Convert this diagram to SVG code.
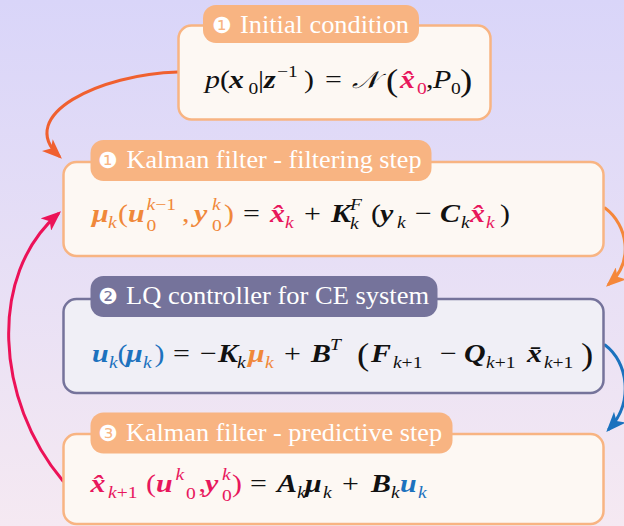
<svg xmlns="http://www.w3.org/2000/svg" width="624" height="526" viewBox="0 0 624 526">
<defs>
<linearGradient id="bg" x1="0" y1="0" x2="0" y2="1">
<stop offset="0" stop-color="#d9d5f9"/>
<stop offset="1" stop-color="#f5e9f2"/>
</linearGradient>
<marker id="ah1" markerUnits="userSpaceOnUse" markerWidth="20" markerHeight="16" viewBox="0 0 20 16" refX="16" refY="8" orient="auto"><path d="M0,0 L20,8 L0,16 L5,8 z" fill="#f0602f"/></marker>
<marker id="ah2" markerUnits="userSpaceOnUse" markerWidth="20" markerHeight="16" viewBox="0 0 20 16" refX="16" refY="8" orient="auto"><path d="M0,0 L20,8 L0,16 L5,8 z" fill="#f5873a"/></marker>
<marker id="ah3" markerUnits="userSpaceOnUse" markerWidth="20" markerHeight="16" viewBox="0 0 20 16" refX="16" refY="8" orient="auto"><path d="M0,0 L20,8 L0,16 L5,8 z" fill="#1b72be"/></marker>
<marker id="ah4" markerUnits="userSpaceOnUse" markerWidth="20" markerHeight="16" viewBox="0 0 20 16" refX="16" refY="8" orient="auto"><path d="M0,0 L20,8 L0,16 L5,8 z" fill="#ec1258"/></marker>
</defs>
<style>
.box-o{fill:#fdf8f3;stroke:#f8b482;stroke-width:2.5}
.box-p{fill:#f0eff6;stroke:#75739b;stroke-width:2.5}
.pill-o{fill:#f8b482}
.pill-p{fill:#75739b}
.pt{font-family:'Liberation Serif','Times New Roman',serif;font-size:25px;fill:#ffffff}
.num{font-family:'DejaVu Sans','Noto Sans',sans-serif;font-size:22px;fill:#ffffff}
.m{font-family:'Liberation Serif','Times New Roman',serif;font-size:26px;fill:#111111}
.i{font-style:italic}
.b{font-style:italic;font-weight:bold}
.s{font-size:17px}
.big{font-size:32px}
.o{fill:#f0883a}
.p{fill:#e8175d}
.bl{fill:#1d72be}
.cal{font-family:'DejaVu Serif','DejaVu Sans','Noto Sans',serif;font-style:italic;font-weight:normal;font-size:24px}
.conn{fill:none;stroke-width:3;stroke-linecap:round}
</style>
<rect x="0" y="0" width="624" height="526" fill="url(#bg)"/>

<g id="connectors">
<path class="conn" stroke="#f0602f" d="M178,72 C100,74 15,115 59,156" marker-end="url(#ah1)"/>
<path class="conn" stroke="#f5873a" d="M605,208 C628,225 634,262 609,284" marker-end="url(#ah2)"/>
<path class="conn" stroke="#1b72be" d="M605,345 C628,362 634,402 609,429" marker-end="url(#ah3)"/>
<path class="conn" stroke="#ec1258" d="M63,481 C-5,400 -12,275 58,214" marker-end="url(#ah4)"/>
</g>

<g id="initial-condition">
<rect class="box-o" x="178.5" y="25.5" width="312" height="94" rx="13"/>
<rect class="pill-o" x="203" y="5" width="216" height="38" rx="13"/>
<text class="num" x="212" y="33">❶</text>
<text class="pt" x="240" y="33" textLength="169" lengthAdjust="spacingAndGlyphs">Initial condition</text>
<text class="m" transform="scale(1.15,1)"><tspan class="i" x="178.3" y="88">p</tspan><tspan x="191.3" y="88">(</tspan><tspan class="b" x="199.1" y="88">x</tspan><tspan class="s" x="216" y="94">0</tspan><tspan x="224.3" y="88">|</tspan><tspan class="b" x="229.6" y="88">z</tspan><tspan class="s" x="240.9" y="77">−1</tspan><tspan x="264.3" y="88">)</tspan><tspan x="282.6" y="88">=</tspan><tspan class="cal" x="306.1" y="88">𝒩</tspan><tspan class="big" x="335.7" y="91">(</tspan><tspan class="b p" x="347.8" y="88">x̂</tspan><tspan class="s p" x="362.6" y="94">0</tspan><tspan x="370.4" y="88">,</tspan><tspan class="i" x="376.5" y="88">P</tspan><tspan class="s" x="392.2" y="94">0</tspan><tspan class="big" x="400" y="91">)</tspan></text>
</g>

<g id="filtering-step">
<rect class="box-o" x="63.5" y="162" width="540" height="94" rx="13"/>
<rect class="pill-o" x="90.5" y="140" width="341" height="41" rx="13"/>
<text class="num" x="98" y="168">❶</text>
<text class="pt" x="126.5" y="168" textLength="295" lengthAdjust="spacingAndGlyphs">Kalman filter - filtering step</text>
<text class="m" transform="scale(1.15,1)"><tspan class="b o" x="80" y="222">μ</tspan><tspan class="s i o" x="93.9" y="228">k</tspan><tspan class="o" x="102.6" y="222">(</tspan><tspan class="b o" x="111.3" y="222">u</tspan><tspan class="s o" x="127.5" y="210"><tspan class="i">k</tspan>−1</tspan><tspan class="s o" x="127.5" y="231">0</tspan><tspan class="o" x="158.3" y="222">,</tspan><tspan class="b o" x="168.7" y="222">y</tspan><tspan class="s i o" x="184.3" y="210">k</tspan><tspan class="s o" x="184.3" y="231">0</tspan><tspan class="o" x="194.8" y="222">)</tspan><tspan x="211.3" y="222">=</tspan><tspan class="b p" x="234.8" y="222">x̂</tspan><tspan class="s i p" x="247.8" y="228">k</tspan><tspan x="264.3" y="222">+</tspan><tspan class="b" x="287.8" y="222">K</tspan><tspan class="s i" x="304.3" y="210">F</tspan><tspan class="s i" x="304.3" y="229">k</tspan><tspan x="322.6" y="222">(</tspan><tspan class="b" x="330.4" y="222">y</tspan><tspan class="s i" x="345.2" y="228">k</tspan><tspan x="360.9" y="222">−</tspan><tspan class="b" x="382.6" y="222">C</tspan><tspan class="s i" x="400.9" y="228">k</tspan><tspan class="b p" x="408.7" y="222">x̂</tspan><tspan class="s i p" x="422.6" y="228">k</tspan><tspan x="434.8" y="222">)</tspan></text>
</g>

<g id="lq-controller">
<rect class="box-p" x="63.5" y="299" width="540" height="94" rx="13"/>
<rect class="pill-p" x="90.5" y="276" width="347" height="41" rx="13"/>
<text class="num" x="98" y="304">❷</text>
<text class="pt" x="126" y="304" textLength="303" lengthAdjust="spacingAndGlyphs">LQ controller for CE system</text>
<text class="m" transform="scale(1.15,1)"><tspan class="b bl" x="80" y="362">u</tspan><tspan class="s i bl" x="94.8" y="368">k</tspan><tspan class="bl" x="102.2" y="362">(</tspan><tspan class="b bl" x="109.6" y="362">μ</tspan><tspan class="s i bl" x="124.3" y="368">k</tspan><tspan class="bl" x="134.3" y="362">)</tspan><tspan x="150.4" y="362">=</tspan><tspan x="173.9" y="362">−</tspan><tspan class="b" x="189.6" y="362">K</tspan><tspan class="s i" x="206.1" y="368">k</tspan><tspan class="b o" x="215.7" y="362">μ</tspan><tspan class="s i o" x="230.4" y="368">k</tspan><tspan x="247" y="362">+</tspan><tspan class="b" x="270.4" y="362">B</tspan><tspan class="s i" x="287" y="350">T</tspan><tspan class="big" x="310.4" y="365">(</tspan><tspan class="b" x="322.6" y="362">F</tspan><tspan class="s" x="341.7" y="368"><tspan class="i">k</tspan>+1</tspan><tspan x="382.6" y="362">−</tspan><tspan class="b" x="403.5" y="362">Q</tspan><tspan class="s" x="422.6" y="368"><tspan class="i">k</tspan>+1</tspan><tspan class="b" x="458.3" y="362">x̄</tspan><tspan class="s" x="473" y="368"><tspan class="i">k</tspan>+1</tspan><tspan class="big" x="505.2" y="365">)</tspan></text>
</g>

<g id="predictive-step">
<rect class="box-o" x="63.5" y="434" width="540" height="90" rx="13"/>
<rect class="pill-o" x="90.5" y="412.5" width="362" height="41" rx="13"/>
<text class="num" x="98" y="441">❸</text>
<text class="pt" x="126" y="441" textLength="316" lengthAdjust="spacingAndGlyphs">Kalman filter - predictive step</text>
<text class="m" transform="scale(1.15,1)"><tspan class="b p" x="78.7" y="492">x̂</tspan><tspan class="s p" x="93.9" y="498"><tspan class="i">k</tspan>+1</tspan><tspan class="p" x="127" y="492">(</tspan><tspan class="b p" x="135.7" y="492">u</tspan><tspan class="s i p" x="152.6" y="480">k</tspan><tspan class="s p" x="161.7" y="499">0</tspan><tspan class="p" x="172.6" y="492">,</tspan><tspan class="b p" x="178.3" y="492">y</tspan><tspan class="s i p" x="193" y="480">k</tspan><tspan class="s p" x="193" y="501">0</tspan><tspan class="p" x="201.7" y="492">)</tspan><tspan x="217.4" y="492">=</tspan><tspan class="b" x="240.9" y="492">A</tspan><tspan class="s i" x="258.3" y="498">k</tspan><tspan class="b" x="265.2" y="492">μ</tspan><tspan class="s i" x="280.9" y="498">k</tspan><tspan x="297.4" y="492">+</tspan><tspan class="b" x="322.6" y="492">B</tspan><tspan class="s i" x="340" y="498">k</tspan><tspan class="b bl" x="347.8" y="492">u</tspan><tspan class="s i bl" x="363.5" y="498">k</tspan></text>
</g>
</svg>
